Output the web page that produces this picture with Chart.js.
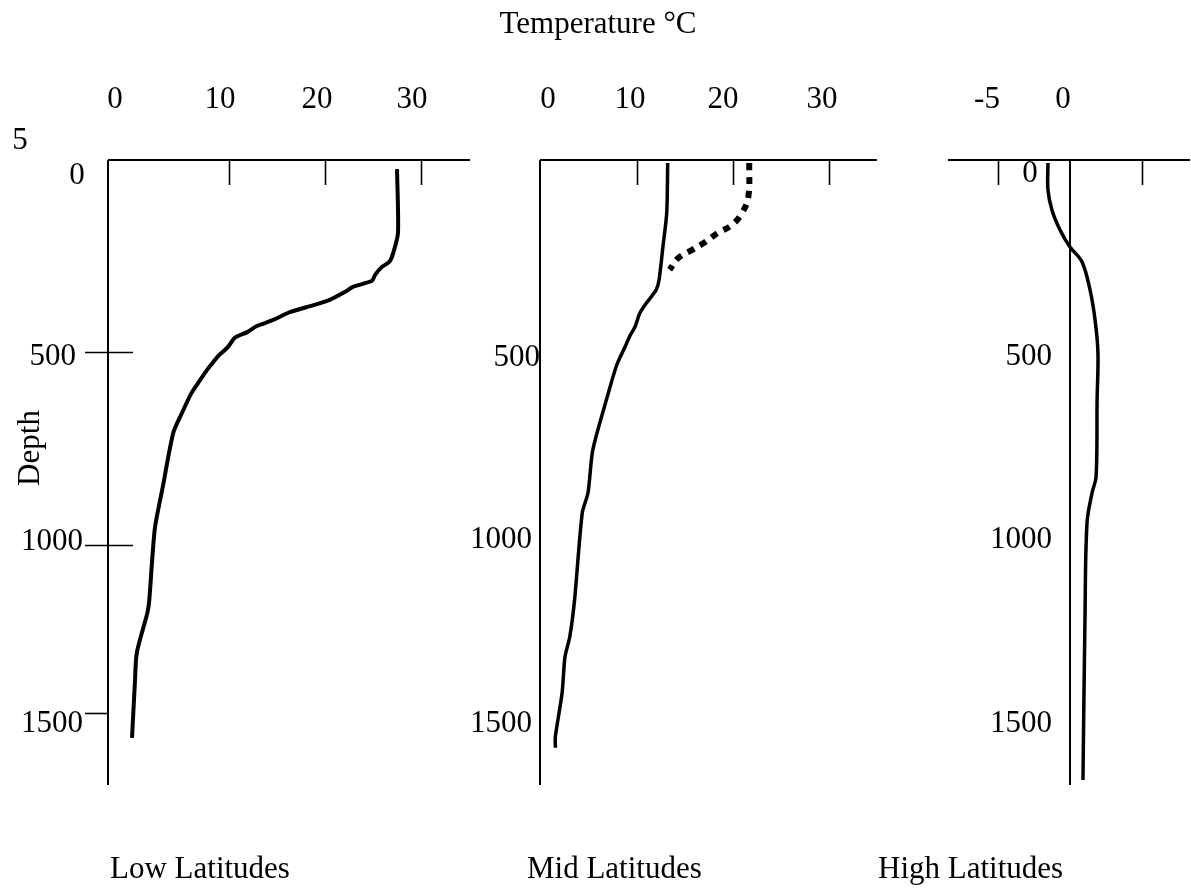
<!DOCTYPE html>
<html>
<head>
<meta charset="utf-8">
<script src="https://cdn.jsdelivr.net/npm/chart.js@4.4.0/dist/chart.umd.min.js"></script>
<style>
  html, body { margin: 0; padding: 0; background: #ffffff; }
  body { width: 1191px; height: 888px; overflow: hidden; position: relative; }
  canvas { position: absolute; left: 0; top: 0; }
</style>
</head>
<body>
<canvas id="low" width="1191" height="888"></canvas>
<canvas id="mid" width="1191" height="888"></canvas>
<canvas id="high" width="1191" height="888"></canvas>
<script>
// ---------------- DATA ----------------
const chartTitle = "Temperature °C";
const depthTitle = "Depth";
const strayLabel = "5";
const panelNames = ["Low Latitudes", "Mid Latitudes", "High Latitudes"];

const depthTickValues = [0, 500, 1000, 1500];
const depthTickLabels = ["0", "500", "1000", "1500"];

const lowTempTickValues = [0, 10, 20, 30];
const lowTempTickLabels = ["0", "10", "20", "30"];
const midTempTickValues = [0, 10, 20, 30];
const midTempTickLabels = ["0", "10", "20", "30"];
const highTempTickValues = [-5, 0];
const highTempTickLabels = ["-5", "0"];

const lowInnerTicks = [10, 20, 30];
const midInnerTicks = [10, 20, 30];
const highInnerTicks = [-5, 5];

// Low latitudes profile (temperature °C, depth m)
const lowLatTemp  = [27.5, 27.6, 27.1, 26.7, 25.9, 25.2, 24.9, 22.9, 22.1, 20.5, 18.8, 16.4, 14.6, 12.9, 11.9, 10.6, 9.9, 8.8, 8.3, 7.7, 7.0, 6.1, 5.1, 4.2, 3.1, 2.3, 2.0, 1.7, 1.5, 0.4, 0.2, -0.1];
const lowLatDepth = [24, 192, 245, 268, 282, 303, 318, 334, 347, 368, 382, 400, 421, 437, 453, 468, 492, 518, 534, 553, 579, 613, 666, 718, 861, 966, 1053, 1158, 1192, 1297, 1376, 1521];

// Mid latitudes – winter profile (solid)
const midLatTemp  = [13.2, 13.1, 12.7, 12.3, 12.0, 11.0, 10.3, 9.8, 9.3, 8.75, 7.9, 6.9, 5.4, 4.9, 4.3, 3.5, 3.0, 2.5, 2.2, 1.5, 1.5];
const midLatDepth = [8, 139, 229, 316, 342, 376, 403, 439, 461, 492, 539, 624, 763, 876, 929, 1158, 1255, 1308, 1403, 1518, 1547];

// Mid latitudes – summer surface layer (dotted)
const midSummerTemp  = [21.7, 21.6, 21.0, 19.9, 18.4, 17.1, 15.7, 14.3, 13.4];
const midSummerDepth = [8, 97, 137, 171, 192, 216, 237, 258, 289];

// High latitudes profile
const highLatTemp  = [-1.53, -1.53, -1.25, -0.69, 0, 0.83, 1.39, 1.74, 1.94, 1.88, 1.81, 1.53, 1.18, 1.04, 0.9];
const highLatDepth = [8, 79, 132, 184, 229, 268, 342, 421, 508, 632, 834, 876, 955, 1203, 1632];

// ---------------- HELPERS ----------------
const FONT = '31px "Liberation Serif", "Times New Roman", serif';
const pts = (xs, ys) => xs.map((x, i) => ({ x: x, y: ys[i] }));

const panelPlugin = {
  id: 'panelAxes',
  afterDraw(chart, args, o) {
    const ctx = chart.ctx;
    const xs = chart.scales.x, ys = chart.scales.y;
    const ca = chart.chartArea;
    ctx.save();
    ctx.strokeStyle = '#000';
    ctx.fillStyle = '#000';
    ctx.lineCap = 'butt';

    // top axis line
    ctx.lineWidth = 2;
    ctx.beginPath();
    ctx.moveTo(ca.left, ca.top);
    ctx.lineTo(ca.right, ca.top);
    ctx.stroke();

    // vertical axis line
    const ax = o.axisAt === null ? ca.left : xs.getPixelForValue(o.axisAt);
    ctx.lineWidth = 2;
    ctx.beginPath();
    ctx.moveTo(ax, ca.top);
    ctx.lineTo(ax, ca.bottom);
    ctx.stroke();

    // inner tick marks on top axis
    ctx.lineWidth = 1.6;
    o.innerTicks.forEach(v => {
      const px = Math.round(xs.getPixelForValue(v)) + 0.5;
      ctx.beginPath();
      ctx.moveTo(px, ca.top);
      ctx.lineTo(px, ca.top + 25);
      ctx.stroke();
    });

    ctx.font = FONT;
    ctx.textBaseline = 'alphabetic';
    // top tick labels
    ctx.textAlign = 'center';
    o.topValues.forEach((v, i) => {
      const px = xs.getPixelForValue(v) + o.topNudge[i];
      ctx.fillText(o.topLabels[i], px, o.topBaseline);
    });

    // depth tick marks
    if (o.yTickMarks) {
      ctx.lineWidth = 1.6;
      o.yTickMarks.forEach((t, i) => {
        const py = Math.round(ys.getPixelForValue(t.v) + t.dy) + 0.5;
        ctx.beginPath();
        ctx.moveTo(ax + t.from, py);
        ctx.lineTo(ax + t.to, py);
        ctx.stroke();
      });
    }

    // depth labels
    o.yLabels.forEach(l => {
      const idx = depthTickValues.indexOf(l.v);
      const py = ys.getPixelForValue(l.v) + l.dy + 10;
      ctx.textAlign = l.align;
      ctx.fillText(depthTickLabels[idx], ax + l.dx, py);
    });

    // panel caption
    ctx.textAlign = 'left';
    ctx.fillText(o.caption, o.captionX, 878);

    // shared text (drawn once)
    if (o.shared) {
      ctx.textAlign = 'center';
      ctx.fillText(chartTitle, 598, 33);
      ctx.fillText(strayLabel, 20, 149);
      ctx.save();
      ctx.translate(39, 448);
      ctx.rotate(-Math.PI / 2);
      ctx.textAlign = 'center';
      ctx.fillText(depthTitle, 0, 0);
      ctx.restore();
    }
    ctx.restore();
  }
};

const DEPTH_MAX = 1645;

function makePanel(id, cfg) {
  return new Chart(document.getElementById(id), {
    type: 'line',
    data: { datasets: cfg.datasets },
    options: {
      responsive: false,
      animation: false,
      events: [],
      layout: { padding: cfg.padding },
      plugins: {
        legend: { display: false },
        tooltip: { enabled: false },
        title: { display: false },
        panelAxes: cfg.axes
      },
      scales: {
        x: { type: 'linear', min: cfg.xmin, max: cfg.xmax, display: false },
        y: { type: 'linear', reverse: true, min: 0, max: DEPTH_MAX, display: false }
      }
    },
    plugins: [panelPlugin]
  });
}

const solid = (data, w, t) => ({
  data: data, borderColor: '#000', borderWidth: w, pointRadius: 0,
  tension: t, fill: false, borderCapStyle: 'butt', borderJoinStyle: 'round'
});

makePanel('low', {
  padding: { left: 108, right: 1191 - 470, top: 160, bottom: 888 - 785 },
  xmin: -2.6, xmax: 35.1,
  datasets: [solid(pts(lowLatTemp, lowLatDepth), 4, 0.25)],
  axes: {
    axisAt: null,
    innerTicks: lowInnerTicks,
    topValues: lowTempTickValues, topLabels: lowTempTickLabels,
    topNudge: [-18, -9, -8, -9], topBaseline: 108,
    yTickMarks: [
      { v: 500, dy: 2, from: -23, to: 25 },
      { v: 1000, dy: 5, from: -23, to: 25 },
      { v: 1500, dy: -17, from: -23, to: 0 }
    ],
    yLabels: [
      { v: 0, dx: -31, dy: 14, align: 'center' },
      { v: 500, dx: -32, dy: 5, align: 'right' },
      { v: 1000, dx: -25, dy: 0, align: 'right' },
      { v: 1500, dx: -25, dy: -8, align: 'right' }
    ],
    caption: panelNames[0], captionX: 110,
    shared: true
  }
});

makePanel('mid', {
  padding: { left: 540, right: 1191 - 877, top: 160, bottom: 888 - 785 },
  xmin: -0.1, xmax: 35.0,
  datasets: [
    solid(pts(midLatTemp, midLatDepth), 3.5, 0.25),
    Object.assign(solid(pts(midSummerTemp, midSummerDepth), 6, 0.4), { borderDash: [7, 7] })
  ],
  axes: {
    axisAt: null,
    innerTicks: midInnerTicks,
    topValues: midTempTickValues, topLabels: midTempTickLabels,
    topNudge: [7, -7, -10, -7], topBaseline: 108,
    yTickMarks: null,
    yLabels: [
      { v: 500, dx: 0, dy: 6, align: 'right' },
      { v: 1000, dx: -8, dy: -2, align: 'right' },
      { v: 1500, dx: -8, dy: -8, align: 'right' }
    ],
    caption: panelNames[1], captionX: 527,
    shared: false
  }
});

makePanel('high', {
  padding: { left: 948, right: 1, top: 160, bottom: 888 - 785 },
  xmin: -8.47, xmax: 8.33,
  datasets: [solid(pts(highLatTemp, highLatDepth), 3.5, 0.35)],
  axes: {
    axisAt: 0,
    innerTicks: highInnerTicks,
    topValues: highTempTickValues, topLabels: highTempTickLabels,
    topNudge: [-11, -7], topBaseline: 108,
    yTickMarks: null,
    yLabels: [
      { v: 0, dx: -40, dy: 12, align: 'center' },
      { v: 500, dx: -18, dy: 5, align: 'right' },
      { v: 1000, dx: -18, dy: -2, align: 'right' },
      { v: 1500, dx: -18, dy: -8, align: 'right' }
    ],
    caption: panelNames[2], captionX: 878,
    shared: false
  }
});
</script>
</body>
</html>
